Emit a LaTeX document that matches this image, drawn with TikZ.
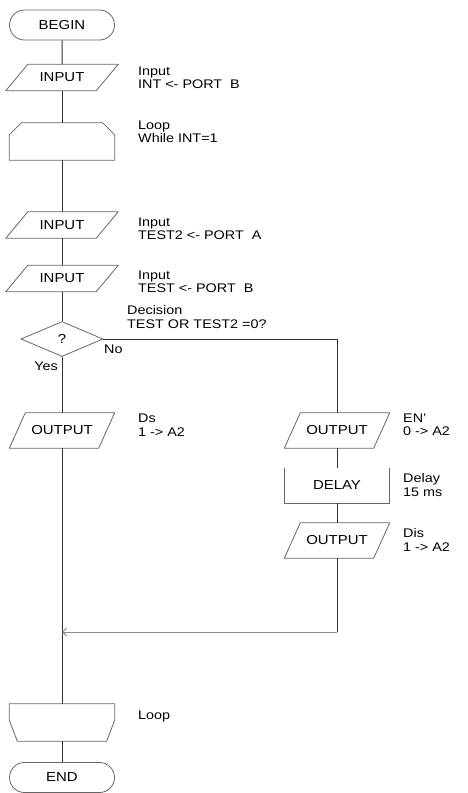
\documentclass[tikz,border=0pt]{standalone}
\usepackage{fontspec}
\setmainfont[FakeStretch=1.15]{Liberation Sans}
\usetikzlibrary{arrows.meta,shapes.geometric,shapes.misc}
\definecolor{LineClr}{rgb}{0.2,0.2,0.2}
\definecolor{ShapeClr}{rgb}{0.4,0.4,0.4}
\definecolor{BackClr}{rgb}{0.55,0.55,0.55}

\begin{document}
\begin{tikzpicture}[x=1pt,y=-1pt,
  box/.style={inner sep=0pt,font=\fontsize{13}{13}\selectfont},
  term/.style={box,draw=ShapeClr,line width=0.8pt,rounded rectangle,minimum width=105pt,minimum height=30pt},
  io/.style={box,minimum width=112pt,minimum height=26pt},
  outbox/.style={box,minimum width=105pt,minimum height=35pt},
  loopbox/.style={box,minimum width=105pt,minimum height=37pt},
  decision/.style={box,draw=ShapeClr,line width=0.8pt,diamond,minimum width=82pt,minimum height=35pt},
  delaybox/.style={box,minimum width=105pt,minimum height=35pt},
  outline/.style={draw=ShapeClr,line width=0.8pt,line join=round},
  note/.style={anchor=west,align=left,inner sep=0pt,font=\fontsize{12.5}{13.5}\selectfont},
  flow/.style={draw=LineClr,line width=1pt},
  backline/.style={draw=BackClr,line width=1pt,-{Straight Barb[length=4pt,width=8pt]}}]
\useasboundingbox (0,0) rectangle (467,793);

\node[term] (begin) at (62,25) {BEGIN};
\node[io] (in1) at (62,77.5) {INPUT};
\node[loopbox] (loop1) at (62,141.5) {};
\node[io] (in2) at (62,225) {INPUT};
\node[io] (in3) at (62,278.5) {INPUT};
\node[decision] (dec) at (62,339) {?};
\node[outbox] (out1) at (62,430.5) {OUTPUT};
\node[outbox] (out2) at (337,430.5) {OUTPUT};
\node[delaybox] (delay) at (337,485.5) {DELAY};
\node[outbox] (out3) at (337,540.5) {OUTPUT};
\coordinate (back) at (62,632);
\node[loopbox] (loop2) at (62,722.5) {};
\node[term] (end) at (62,777.5) {END};

\node[note] (n1) at (138,78) {Input\\INT <- PORT~~B};
\node[note] (n2) at (138,132) {Loop\\While INT=1};
\node[note] (n3) at (138,229) {Input\\TEST2 <- PORT~~A};
\node[note] (n4) at (138,282) {Input\\TEST <- PORT~~B};
\node[note] (n5) at (127,317) {Decision\\TEST OR TEST2 =0?};
\node[note] (no) at (104,349) {No};
\node[note,anchor=center] (yes) at (46,366) {Yes};
\node[note] (n6) at (138,425) {Ds\\1 -> A2};
\node[note] (n7) at (403,425) {EN'\\0 -> A2};
\node[note] (n8) at (403,485) {Delay\\15 ms};
\node[note] (n9) at (403,540) {Dis\\1 -> A2};
\node[note] (n10) at (138,716) {Loop};

\foreach \n in {in1,in2,in3}
  \draw[outline] ([xshift=22pt]\n.north west) -- (\n.north east) -- ([xshift=-22pt]\n.south east) -- (\n.south west) -- cycle;
\foreach \n in {out1,out2,out3}
  \draw[outline] ([xshift=16pt]\n.north west) -- (\n.north east) -- ([xshift=-16pt]\n.south east) -- (\n.south west) -- cycle;
\draw[outline] ([xshift=12pt]loop1.north west) -- ([xshift=-12pt]loop1.north east) -- ([yshift=-12pt]loop1.north east)
  -- (loop1.south east) -- (loop1.south west) -- ([yshift=-12pt]loop1.north west) -- cycle;
\draw[outline] (loop2.north west) -- (loop2.north east) -- ([yshift=21pt]loop2.south east)
  -- ([xshift=-8pt]loop2.south east) -- ([xshift=8pt]loop2.south west) -- ([yshift=21pt]loop2.south west) -- cycle;
\draw[outline] (delay.north west) -- (delay.south west) -- (delay.south east) -- (delay.north east);

\foreach \a/\b in {begin/in1,in1/loop1,loop1/in2,in2/in3,in3/dec,dec/out1,out1/loop2,loop2/end,out2/delay,delay/out3}
  \draw[flow] (\a) -- (\b);
\draw[flow] (dec.east) -| (out2);
\draw[flow] (out3) -- (out3 |- back);
\draw[backline] (out3 |- back) -- (back);

\end{tikzpicture}
\end{document}
